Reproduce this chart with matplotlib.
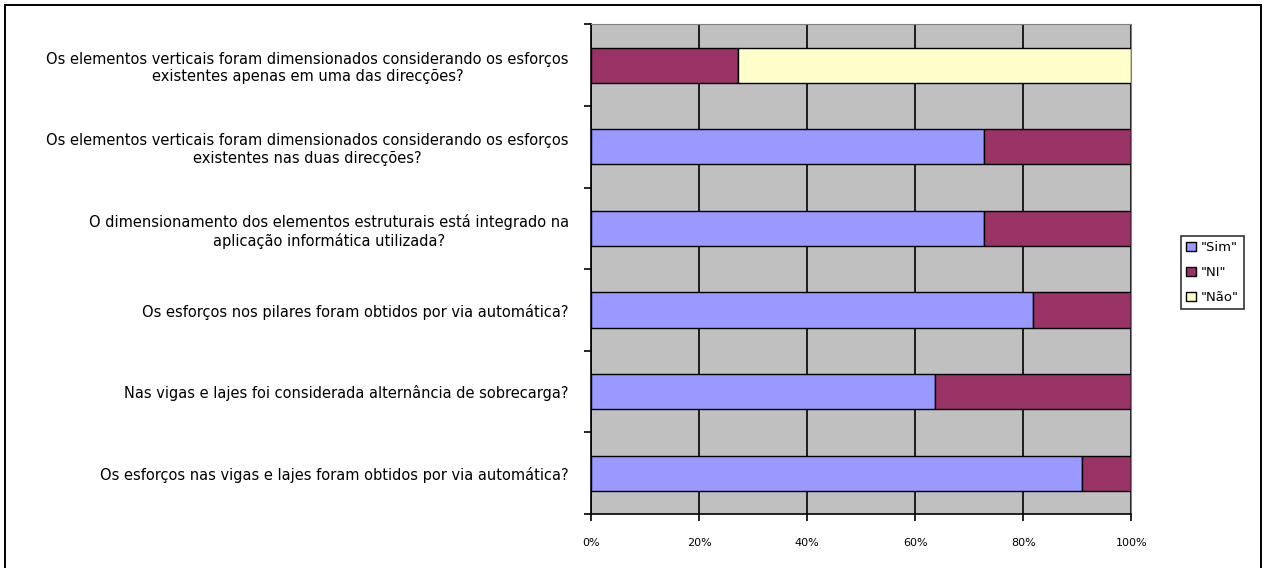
import numpy as np
import matplotlib.pyplot as plt
from matplotlib.patches import Rectangle

# questions, top to bottom
questions = [
    "Os elementos verticais foram dimensionados considerando os esforços\nexistentes apenas em uma das direcções?",
    "Os elementos verticais foram dimensionados considerando os esforços\nexistentes nas duas direcções?",
    "O dimensionamento dos elementos estruturais está integrado na\naplicação informática utilizada?",
    "Os esforços nos pilares foram obtidos por via automática?",
    "Nas vigas e lajes foi considerada alternância de sobrecarga?",
    "Os esforços nas vigas e lajes foram obtidos por via automática?",
]
# answer counts per question (11 respondents)
sim = [0, 8, 8, 9, 7, 10]
ni = [3, 3, 3, 2, 4, 1]
nao = [8, 0, 0, 0, 0, 0]

series = ['"Sim"', '"NI"', '"Não"']
colors = ["#9999FF", "#993366", "#FFFFCC"]

counts = np.array([sim, ni, nao], dtype=float)
pct = counts / counts.sum(axis=0) * 100

plt.rcParams['font.family'] = ['DejaVu Sans']

fig = plt.figure(figsize=(12.66, 5.68), dpi=100)
ax = fig.add_axes([0.467, 0.095, 0.4265, 0.862])
ax.set_facecolor("#C0C0C0")

n = len(questions)
y = np.arange(n)[::-1]
left = np.zeros(n)
for vals, name, col in zip(pct, series, colors):
    ax.barh(y, vals, left=left, height=0.43, color=col,
            edgecolor="black", linewidth=1.0, label=name, zorder=3)
    left += vals

ax.set_xlim(0, 100)
ax.set_ylim(-0.5, n - 0.5)
ax.set_xticks(np.arange(0, 101, 20))
ax.set_xticklabels([f"{v}%" for v in range(0, 101, 20)], fontsize=8)
ax.xaxis.grid(True, color="black", linewidth=1.2, zorder=1)
ax.set_axisbelow(True)

ax.set_yticks(y)
ax.set_yticklabels(questions, fontsize=10.5, multialignment="center")
ax.tick_params(axis="y", length=0, pad=16)
ax.set_yticks(np.arange(-0.5, n, 1.0), minor=True)
ax.tick_params(axis="y", which="minor", length=5, width=1.2)
ax.tick_params(axis="x", length=5, width=1.2, pad=12)

for s in ["top", "right"]:
    ax.spines[s].set_color("#808080")
for s in ["left", "bottom"]:
    ax.spines[s].set_linewidth(1.2)

leg = fig.legend(loc="center left", bbox_to_anchor=(0.933, 0.52),
                 fontsize=9.5, frameon=True, fancybox=False,
                 handlelength=0.7, handleheight=0.7, handletextpad=0.4,
                 borderpad=0.4, labelspacing=0.9, borderaxespad=0)
leg.get_frame().set_edgecolor("black")
leg.get_frame().set_linewidth(1.2)

# outer chart frame (bottom edge falls outside the picture)
fig.patches.append(Rectangle((0.004, -0.02), 0.992, 1.012, transform=fig.transFigure,
                             fill=False, edgecolor="black", linewidth=1.4))

fig.savefig("out.png", dpi=100)
